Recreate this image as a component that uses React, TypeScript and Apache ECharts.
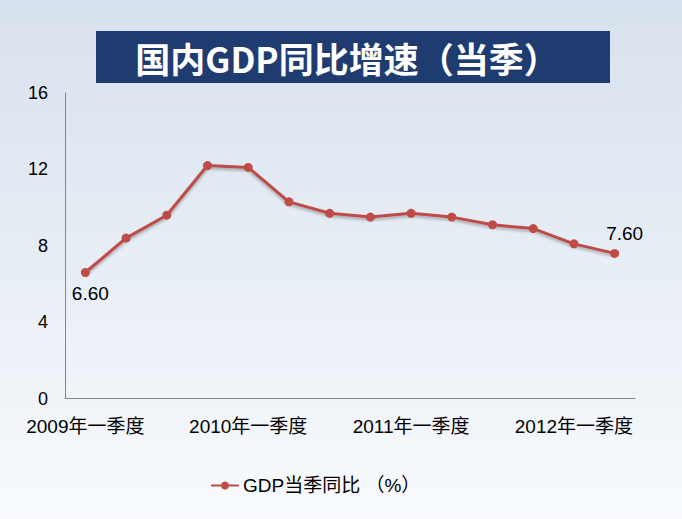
import React, { useEffect, useRef } from "react";
import * as echarts from "echarts";

const categories = [
  "2009年一季度", "2009年二季度", "2009年三季度", "2009年四季度",
  "2010年一季度", "2010年二季度", "2010年三季度", "2010年四季度",
  "2011年一季度", "2011年二季度", "2011年三季度", "2011年四季度",
  "2012年一季度", "2012年二季度",
];
const gdpValues = [6.6, 8.4, 9.6, 12.2, 12.1, 10.3, 9.7, 9.5, 9.7, 9.5, 9.1, 8.9, 8.1, 7.6];
const labeledIndexes = [0, 13];
const seriesName = "GDP当季同比 （%）";
const titleText = "国内GDP同比增速（当季）";

const FONT = "'Liberation Sans', 'Noto Sans CJK SC', sans-serif";

export default function App() {
  const ref = useRef<HTMLDivElement>(null);
  useEffect(() => {
    if (!ref.current) return;
    const chart = echarts.init(ref.current, undefined, { renderer: "svg" });
    const data = gdpValues.map((v, i) => {
      if (!labeledIndexes.includes(i)) return v;
      const first = i === 0;
      return {
        value: v,
        label: {
          show: true,
          position: first ? "bottom" : "top",
          distance: first ? 7 : 6,
          offset: first ? [5, 0] : [10, 0],
          formatter: (p: any) => Number(p.value).toFixed(2),
          color: "#000",
          fontSize: 19,
          fontFamily: FONT,
        },
      };
    });
    chart.setOption({
      animation: false,
      backgroundColor: {
        type: "linear", x: 0, y: 0, x2: 0, y2: 1,
        colorStops: [
          { offset: 0, color: "#d7e1ed" },
          { offset: 1, color: "#f8fafd" },
        ],
      },
      graphic: [
        {
          type: "rect",
          shape: { x: 96, y: 31, width: 514, height: 52 },
          style: { fill: "#1e3c6f" },
        },
        {
          type: "text",
          x: 347,
          y: 57,
          style: {
            text: titleText,
            fill: "#ffffff",
            fontSize: 35,
            fontWeight: "bold",
            fontFamily: "'Noto Sans CJK SC', sans-serif",
            align: "center",
            verticalAlign: "middle",
          },
        },
      ],
      grid: { left: 65, right: 47, top: 93, bottom: 120.5 },
      legend: {
        data: [seriesName],
        top: 471,
        left: 205,
        itemWidth: 28,
        itemHeight: 10,
        itemGap: 4,
        textStyle: { fontSize: 19, color: "#000", fontFamily: FONT, padding: [0, 0, 0, -1] },
      },
      xAxis: {
        type: "category",
        data: categories,
        boundaryGap: true,
        axisLine: { lineStyle: { color: "#868686", width: 1 } },
        axisTick: { show: false },
        axisLabel: {
          interval: 3,
          margin: 18,
          fontSize: 19,
          color: "#000",
          fontFamily: FONT,
        },
      },
      yAxis: {
        type: "value",
        min: 0,
        max: 16,
        interval: 4,
        axisLine: { show: true, lineStyle: { color: "#868686", width: 1 } },
        axisTick: { show: false },
        axisLabel: { margin: 17, fontSize: 18, color: "#000", fontFamily: FONT },
        splitLine: {
          lineStyle: {
            color: "#7f7f7f",
            width: 1,
            shadowColor: "rgba(0,0,0,0.25)",
            shadowBlur: 3,
            shadowOffsetY: 2,
          },
        },
      },
      series: [
        {
          name: seriesName,
          type: "line",
          data,
          symbol: "circle",
          symbolSize: 9,
          itemStyle: { color: "#be4b48" },
          lineStyle: {
            color: "#be4b48",
            width: 3,
            shadowColor: "rgba(0,0,0,0.3)",
            shadowBlur: 3,
            shadowOffsetY: 2,
          },
        },
      ],
    });
    return () => chart.dispose();
  }, []);
  return (
    <div
      ref={ref}
      style={{ position: "fixed", left: 0, top: 0, width: 682, height: 519 }}
    />
  );
}
